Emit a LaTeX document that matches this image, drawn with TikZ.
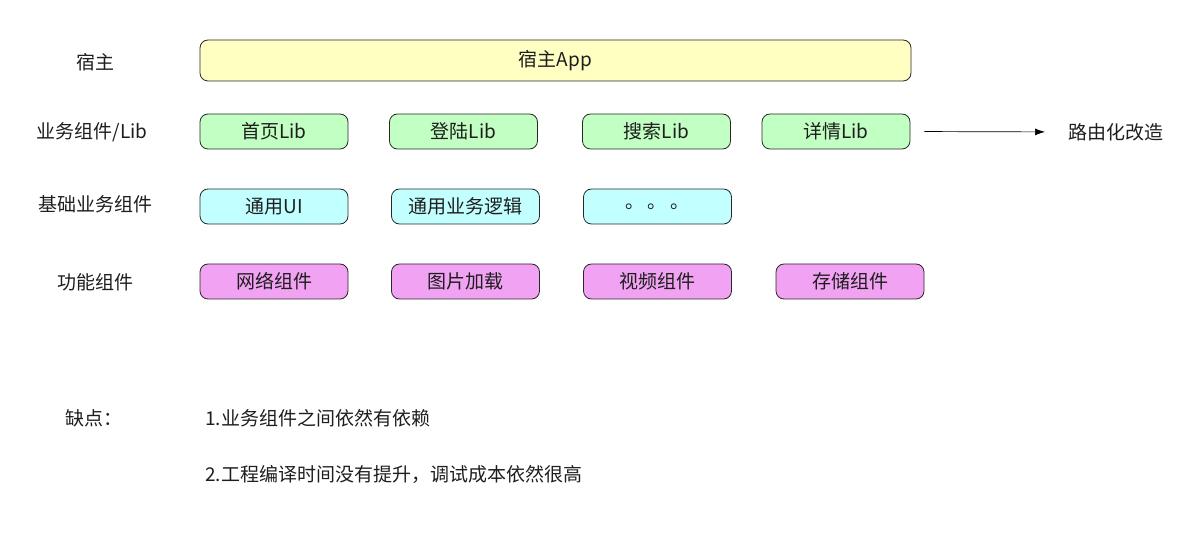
\documentclass[tikz,border=0pt]{standalone}
\usepackage{fontspec}
\setmainfont{Noto Sans CJK SC}
\usetikzlibrary{arrows.meta}
\definecolor{hostfill}{RGB}{255,255,194}
\definecolor{libfill}{RGB}{194,255,194}
\definecolor{basefill}{RGB}{194,255,255}
\definecolor{funcfill}{RGB}{242,162,242}
\definecolor{boxline}{RGB}{40,40,40}
\definecolor{txt}{RGB}{30,30,30}

\begin{document}
\begin{tikzpicture}[x=1pt,y=-1pt,every node/.style={font=\fontsize{19}{22}\selectfont,text=txt},layerbox/.style={draw=boxline,line width=0.8pt,rounded corners=8pt,minimum width=148pt,minimum height=35pt,inner sep=0pt},rowlabel/.style={anchor=center},
note/.style={anchor=west,inner sep=0pt}]
\useasboundingbox (0,0) rectangle (1184,540);

% host layer
\node[rowlabel] (lhost) at (95,62) {宿主};
\node[layerbox,fill=hostfill,minimum width=711pt,minimum height=41pt] (host) at (555.5,60.5) {宿主App};

% business libs
\node[rowlabel] (llib) at (92,132) {业务组件/Lib};
\node[layerbox,fill=libfill] (lib1) at (274,131.5) {首页Lib};
\node[layerbox,fill=libfill] (lib2) at (463.5,131.5) {登陆Lib};
\node[layerbox,fill=libfill] (lib3) at (656.5,131.5) {搜索Lib};
\node[layerbox,fill=libfill] (lib4) at (836,131.5) {详情Lib};
\node[note] (route) at (1068,132) {路由化改造};
\draw[line width=0.7pt,-{Latex[length=10pt,width=7pt]},shorten <=14pt,shorten >=23pt] (lib4.east) -- (route.west);

% base layer
\node[rowlabel] (lbase) at (95,204) {基础业务组件};
\node[layerbox,fill=basefill] (base1) at (274,206.5) {通用UI};
\node[layerbox,fill=basefill] (base2) at (465.5,206.5) {通用业务逻辑};
\node[layerbox,fill=basefill] (base3) at (657.5,206.5) {。\,。\,。};

% function layer
\node[rowlabel] (lfunc) at (95,282) {功能组件};
\node[layerbox,fill=funcfill] (func1) at (274,281.5) {网络组件};
\node[layerbox,fill=funcfill] (func2) at (465.5,281.5) {图片加载};
\node[layerbox,fill=funcfill] (func3) at (657.5,281.5) {视频组件};
\node[layerbox,fill=funcfill] (func4) at (850,281.5) {存储组件};

% drawbacks
\node[note] (cons) at (65,418) {缺点：};
\node[note] (cons1) at (205,418.5) {1.业务组件之间依然有依赖};
\node[note] (cons2) at (205,474.5) {2.工程编译时间没有提升，调试成本依然很高};
\end{tikzpicture}
\end{document}
